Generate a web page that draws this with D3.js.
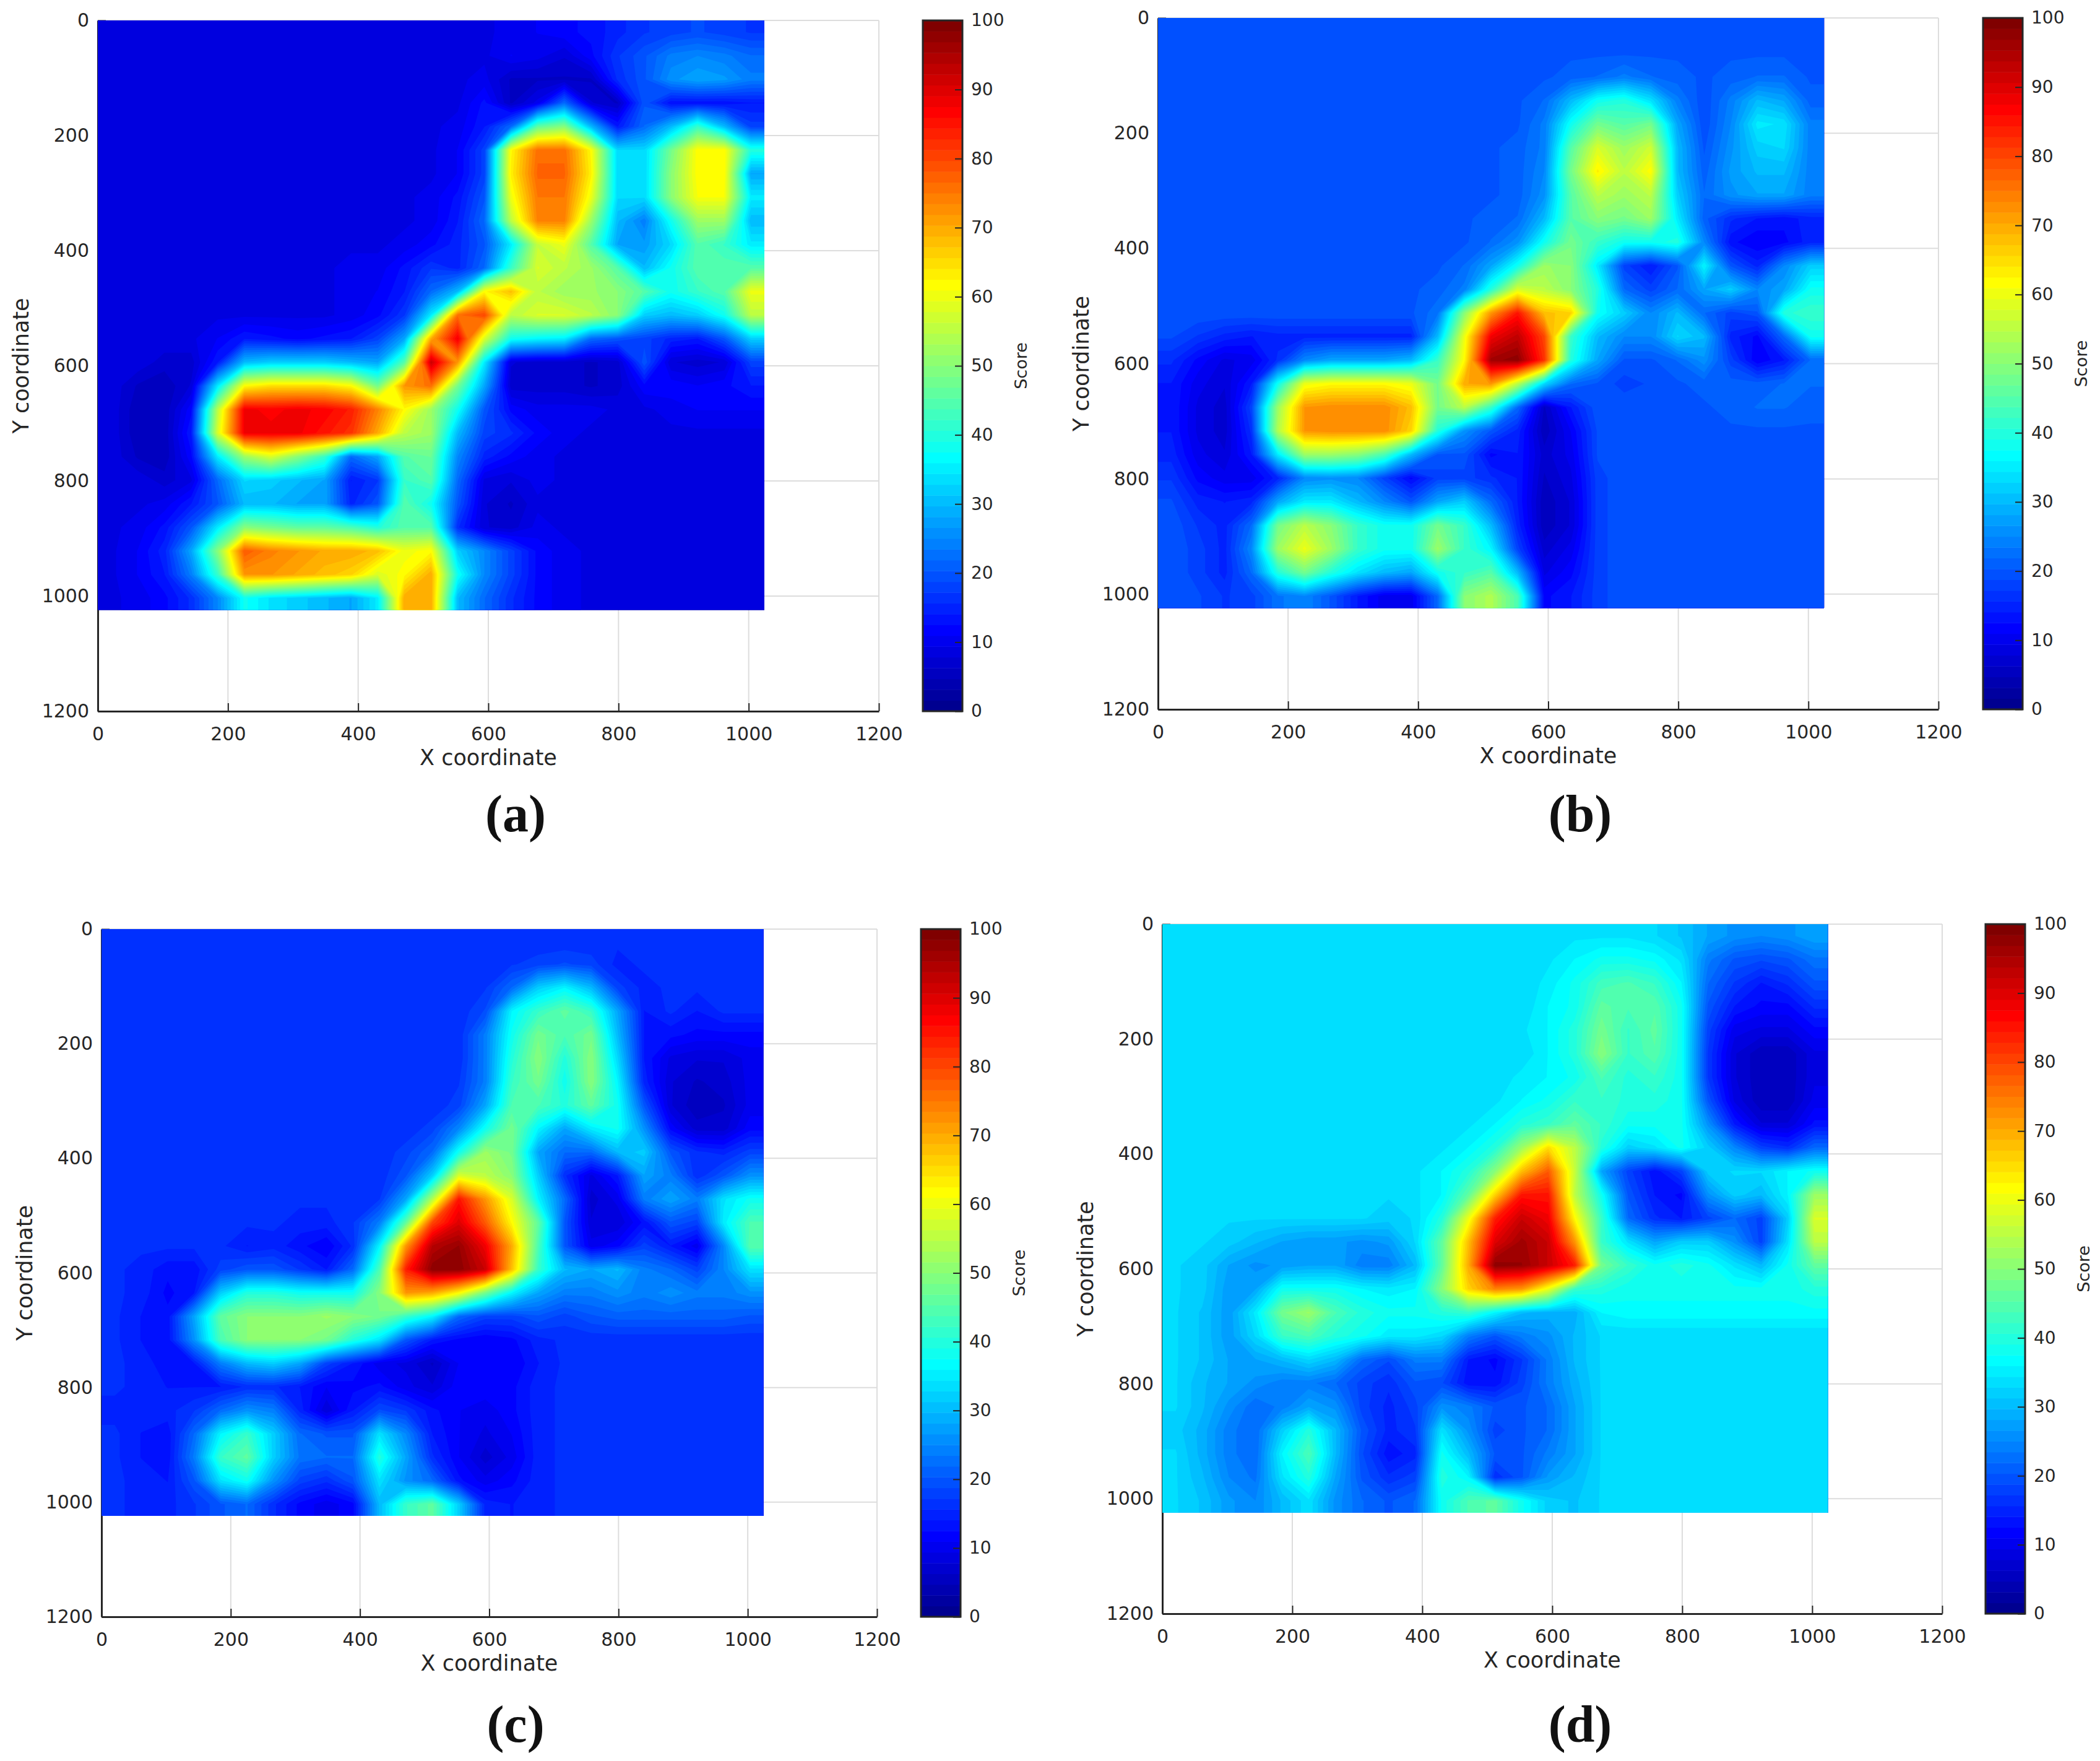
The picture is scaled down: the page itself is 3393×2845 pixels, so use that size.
<!DOCTYPE html>
<html>
<head>
<meta charset="utf-8">
<script src="https://cdnjs.cloudflare.com/ajax/libs/d3/7.8.5/d3.min.js"></script>
<style>
  html, body { margin: 0; padding: 0; background: #fff; }
  text { font-family: "DejaVu Sans", sans-serif; fill: #262626; }
</style>
</head>
<body>
<svg id="chart" width="3393" height="2845"></svg>
<script>
// values, rows are y, columns are x, one cell = 1024/25 units
var scoreA = [
[9,9,9,9,9,9,9,9,9,9,9,9,9,9,9,10,11,12,13,15,17,18,19,18,17],
[9,9,9,9,9,9,9,9,9,9,9,9,9,9,9,11,10,8,12,17,20,24,25,24,22],
[9,9,9,9,9,9,9,9,9,9,9,9,9,9,10,6,6,6,6,16,20,26,28,27,24],
[9,9,9,9,9,9,9,9,9,9,9,9,9,9,13,6,10,22,8,6,20,13,13,13,14],
[9,9,9,9,9,9,9,9,9,9,9,9,9,10,14,22,46,50,30,14,22,30,42,30,18],
[9,9,9,9,9,9,9,9,9,9,9,9,9,11,18,62,76,76,62,33,33,48,62,62,40],
[9,9,9,9,9,9,9,9,9,9,9,9,9,11,18,63,77,77,63,33,33,50,62,62,28],
[9,9,9,9,9,9,9,9,9,9,9,9,10,13,20,60,75,75,60,33,33,50,61,61,35],
[9,9,9,9,9,9,9,9,9,9,9,9,10,14,22,55,74,74,52,30,24,38,52,52,30],
[9,9,9,9,9,9,9,9,9,9,9,10,12,15,20,35,56,60,45,28,27,33,45,42,35],
[9,9,9,9,9,9,9,9,9,10,10,13,17,15,22,42,58,55,52,45,30,38,45,45,45],
[9,9,9,9,9,9,9,9,9,10,11,14,22,30,62,68,55,52,52,50,45,38,42,45,60],
[9,9,9,9,9,9,9,9,9,10,12,17,35,76,80,55,58,58,55,50,32,30,32,38,55],
[9,9,9,9,11,14,13,12,13,14,18,28,70,88,58,38,36,35,22,20,18,15,14,20,32],
[9,9,7,7,14,30,32,32,32,30,28,45,92,72,35,8,7,7,6,7,20,8,7,8,18],
[9,6,5,8,35,62,65,65,65,62,48,72,76,48,28,7,7,7,6,7,12,12,11,12,14],
[9,5,5,12,55,88,87,88,87,84,74,62,52,38,20,12,10,10,10,9,9,10,11,11,11],
[9,5,5,14,58,88,88,88,85,82,70,55,52,30,18,16,12,10,9,9,9,9,9,9,9],
[9,6,5,12,35,52,58,50,42,22,28,45,47,25,15,12,10,9,9,9,9,9,9,9,9],
[9,9,7,9,22,33,32,30,28,14,17,42,45,22,9,8,10,9,9,9,9,9,9,9,9],
[9,9,10,14,20,30,30,28,28,15,20,45,38,20,8,6,9,9,9,9,9,9,9,9,9],
[9,10,13,20,35,50,48,46,46,44,40,45,45,16,8,7,10,9,9,9,9,9,9,9,9],
[9,11,15,28,50,78,74,72,70,70,68,60,62,32,25,18,12,10,9,9,9,9,9,9,9],
[9,11,14,24,42,72,72,70,68,66,58,62,70,38,25,18,12,10,9,9,9,9,9,9,9],
[9,10,12,16,25,38,34,32,30,28,35,70,70,30,22,16,12,10,9,9,9,9,9,9,9]
];
var scoreB = [
[20,20,20,20,20,20,20,20,20,20,20,20,20,20,20,20,20,20,20,19,19,19,19,19,19],
[20,20,20,20,20,20,20,20,20,20,20,20,20,20,20,20,20,20,20,20,19,20,20,20,20],
[20,20,20,20,20,20,20,20,20,20,20,20,20,20,20,21,22,24,22,21,20,21,22,22,20],
[20,20,20,20,20,20,20,20,20,20,20,20,20,20,22,30,38,40,34,24,19,24,30,28,21],
[20,20,20,20,20,20,20,20,20,20,20,20,20,20,24,38,48,45,48,28,19,25,35,34,24],
[20,20,20,20,20,20,20,20,20,20,20,20,20,21,24,45,58,52,57,30,20,26,32,33,24],
[20,20,20,20,20,20,20,20,20,20,20,20,20,21,25,48,63,55,62,30,21,27,30,30,24],
[20,20,20,20,20,20,20,20,20,20,20,20,20,21,26,45,55,52,55,32,22,26,28,28,24],
[20,20,20,20,20,20,20,20,20,20,20,20,21,22,30,45,50,48,52,35,21,16,14,13,15],
[20,20,20,20,20,20,20,20,20,20,20,20,22,26,38,48,42,38,38,40,25,13,11,12,15],
[20,20,20,20,20,20,20,20,20,20,20,22,28,38,52,50,35,18,14,20,36,20,15,25,32],
[20,20,20,20,20,20,20,20,20,20,21,24,40,58,55,50,40,22,18,22,28,32,25,28,38],
[20,20,20,20,20,20,20,20,20,20,23,50,72,85,68,66,38,32,25,30,22,18,20,40,42],
[19,17,15,14,15,15,15,15,15,15,30,60,88,93,80,42,30,25,25,33,30,15,12,22,38],
[16,12,9,10,16,25,28,28,28,30,42,62,96,98,82,40,28,20,20,22,26,18,11,14,22],
[14,10,8,14,38,60,62,62,62,60,48,70,72,55,33,22,20,18,19,20,21,21,21,22,22],
[14,9,7,18,52,72,73,73,73,68,48,55,42,22,6,14,20,20,20,20,20,21,22,22,21],
[14,9,7,16,54,72,73,73,73,66,40,26,20,15,5,11,19,20,20,20,20,20,20,20,20],
[15,10,8,14,35,52,52,50,44,30,20,20,12,14,7,10,19,20,20,20,20,20,20,20,20],
[17,12,10,10,15,25,26,25,18,12,18,18,16,14,6,9,18,20,20,20,20,20,20,20,20],
[19,15,14,15,28,35,35,30,25,20,28,32,22,14,5,8,18,20,20,20,20,20,20,20,20],
[20,17,15,22,48,55,50,42,38,38,48,42,30,15,5,8,18,20,20,20,20,20,20,20,20],
[20,18,15,25,52,60,52,42,38,38,52,42,36,18,7,10,18,20,20,20,20,20,20,20,20],
[20,18,15,22,40,48,40,34,30,28,38,42,45,30,9,12,18,20,20,20,20,20,20,20,20],
[20,19,17,18,23,25,20,14,10,10,22,50,54,44,12,14,18,20,20,20,20,20,20,20,20]
];
var scoreC = [
[16,16,16,16,16,16,16,16,16,16,16,16,16,16,16,16,16,16,16,16,16,16,16,16,16],
[16,16,16,16,16,16,16,16,16,16,16,16,16,16,16,17,18,19,18,15,16,16,16,16,16],
[16,16,16,16,16,16,16,16,16,16,16,16,16,16,17,22,32,36,30,18,15,16,16,16,16],
[16,16,16,16,16,16,16,16,16,16,16,16,16,16,19,36,42,46,42,28,14,16,14,16,16],
[16,16,16,16,16,16,16,16,16,16,16,16,16,16,24,38,48,44,48,30,14,13,12,12,12],
[16,16,16,16,16,16,16,16,16,16,16,16,16,16,24,40,50,40,50,33,14,9,8,8,10],
[16,16,16,16,16,16,16,16,16,16,16,16,16,17,24,42,48,38,50,36,15,8,6,7,10],
[16,16,16,16,16,16,16,16,16,16,16,16,16,18,28,44,44,40,46,38,20,8,5,6,10],
[16,16,16,16,16,16,16,16,16,16,16,16,18,25,38,48,36,28,35,38,26,12,7,7,12],
[16,16,16,16,16,16,16,16,16,16,16,18,22,38,52,48,28,22,22,30,32,20,16,15,18],
[16,16,16,16,16,16,16,16,16,16,16,20,32,58,55,50,32,16,9,14,28,24,16,20,26],
[16,16,16,16,16,16,16,16,16,16,17,28,54,85,72,58,36,22,7,10,24,28,24,34,38],
[16,16,16,16,16,16,16,15,15,17,24,46,80,90,78,62,46,20,8,8,13,20,18,35,44],
[16,16,16,16,16,14,15,13,11,16,36,72,94,97,88,70,44,20,10,12,18,14,10,25,45],
[16,15,13,13,18,20,20,17,14,22,44,84,98,98,92,68,42,30,28,30,24,22,18,25,34],
[16,15,12,14,32,40,40,38,38,38,50,72,70,62,48,36,28,24,24,26,24,26,24,24,26],
[16,14,13,28,46,50,50,50,52,50,48,42,36,22,18,18,20,18,20,21,21,21,21,21,20],
[16,14,13,26,44,50,50,50,48,40,34,20,14,12,11,12,15,16,16,16,16,16,16,16,16],
[16,15,13,14,24,30,32,28,18,14,10,9,6,11,11,11,14,16,16,16,16,16,16,16,16],
[16,15,14,14,14,16,16,14,11,12,13,10,8,12,12,12,15,16,16,16,16,16,16,16,16],
[15,15,15,17,22,26,24,15,8,14,19,17,13,11,10,12,15,16,16,16,16,16,16,16,16],
[16,14,13,22,36,42,32,22,20,20,34,25,14,11,9,11,15,16,16,16,16,16,16,16,16],
[16,14,13,24,42,46,32,23,22,22,40,28,16,11,7,10,15,16,16,16,16,16,16,16,16],
[16,15,14,20,34,38,26,18,16,20,34,26,22,13,10,12,15,16,16,16,16,16,16,16,16],
[16,15,15,17,20,22,16,12,10,12,30,42,46,32,15,14,15,16,16,16,16,16,16,16,16]
];
var scoreD = [
[33,33,33,33,33,33,33,33,33,33,33,33,33,33,33,34,34,34,33,31,28,26,25,26,28],
[33,33,33,33,33,33,33,33,33,33,33,33,33,33,34,36,38,38,37,34,24,20,19,20,23],
[33,33,33,33,33,33,33,33,33,33,33,33,33,33,35,38,43,44,42,36,22,17,14,16,20],
[33,33,33,33,33,33,33,33,33,33,33,33,33,33,36,38,46,44,45,38,20,14,12,12,16],
[33,33,33,33,33,33,33,33,33,33,33,33,33,34,36,40,48,42,46,38,18,10,9,9,12],
[33,33,33,33,33,33,33,33,33,33,33,33,33,33,36,40,50,42,45,38,17,8,5,5,9],
[33,33,33,33,33,33,33,33,33,33,33,33,33,35,36,38,44,40,42,38,17,8,5,5,9],
[33,33,33,33,33,33,33,33,33,33,33,33,34,36,38,42,42,40,40,38,20,9,5,5,10],
[33,33,33,33,33,33,33,33,33,33,33,34,36,40,42,46,42,38,38,38,26,14,8,8,13],
[33,33,33,33,33,33,33,33,33,33,34,36,40,52,65,55,40,32,34,38,32,25,18,16,22],
[33,33,33,33,33,33,33,33,33,34,36,40,50,68,78,56,28,18,13,18,32,33,33,36,38],
[33,33,33,33,33,33,33,33,33,34,36,46,66,85,85,55,38,20,14,12,26,32,30,36,52],
[33,33,33,33,33,33,33,33,32,33,40,60,84,92,88,62,42,22,16,14,18,22,18,32,58],
[33,33,32,30,28,27,27,26,27,33,46,68,90,96,92,72,42,34,28,32,32,26,18,34,55],
[33,32,28,26,27,28,28,24,24,30,46,70,98,97,92,84,48,42,38,40,38,34,30,38,46],
[33,32,27,28,38,38,38,36,35,36,50,66,74,72,60,42,40,38,38,38,38,38,38,38,40],
[33,31,27,35,48,52,44,40,38,38,40,42,36,30,29,29,36,37,37,37,37,37,37,37,37],
[33,31,27,33,42,44,40,38,35,35,33,24,20,24,26,30,33,33,33,33,33,33,33,33,33],
[33,31,28,28,30,33,30,22,19,24,24,14,12,17,24,30,33,33,33,33,33,33,33,33,33],
[33,30,28,26,24,24,22,18,16,20,19,13,13,18,24,29,33,33,33,33,33,33,33,33,33],
[33,30,26,22,24,28,26,18,15,18,26,24,20,20,22,28,33,34,33,33,33,33,33,33,33],
[32,29,24,22,32,40,30,20,15,17,34,26,18,20,22,28,33,34,33,33,33,33,33,33,33],
[33,29,24,22,36,44,30,19,13,15,38,30,20,20,24,28,33,34,33,33,33,33,33,33,33],
[33,30,25,23,34,40,28,20,16,18,40,36,16,20,27,30,33,34,33,33,33,33,33,33,33],
[33,31,27,25,30,34,26,22,20,22,38,44,46,38,32,31,33,34,33,33,33,33,33,33,33]
];
var axisTicks = [0, 200, 400, 600, 800, 1000, 1200];
var scoreTicks = [0, 10, 20, 30, 40, 50, 60, 70, 80, 90, 100];
var panelNames = ["(a)", "(b)", "(c)", "(d)"];

// where each panel sits on the page
var panels = [
  { data: scoreA, name: panelNames[0], left: 158, right: 1420, top: 33, bottom: 1149, barLeft: 1491, labelX: 833, labelY: 1316 },
  { data: scoreB, name: panelNames[1], left: 1871, right: 3132, top: 29, bottom: 1146, barLeft: 3204, labelX: 2553, labelY: 1316 },
  { data: scoreC, name: panelNames[2], left: 164, right: 1417, top: 1501, bottom: 2612, barLeft: 1488, labelX: 833, labelY: 2787 },
  { data: scoreD, name: panelNames[3], left: 1878, right: 3138, top: 1493, bottom: 2607, barLeft: 3208, labelX: 2553, labelY: 2787 }
];

var gridSize = 25, heatMax = 1024, barWidth = 64;
var levelCount = 64; // jet(64), same as the colorbar

var jet = d3.scaleLinear()
  .domain([0, 7, 23, 39, 55, 63])
  .range(["#000090", "#0000ff", "#00ffff", "#ffff00", "#ff0000", "#800000"]);

var levels = d3.range(levelCount);
var levelValue = function(i) { return i * 100 / levelCount; };

// repeats the border cells once, d3.contours would cut the corners otherwise
function withBorder(rows) {
  var out = [];
  for (var j = -1; j <= gridSize; j++) {
    var row = rows[Math.max(0, Math.min(gridSize - 1, j))];
    for (var i = -1; i <= gridSize; i++) {
      out.push(row[Math.max(0, Math.min(gridSize - 1, i))]);
    }
  }
  return out;
}

var svg = d3.select("#chart");

panels.forEach(function(p, n) {
  var x = d3.scaleLinear().domain([0, 1200]).range([p.left, p.right]);
  var y = d3.scaleLinear().domain([0, 1200]).range([p.top, p.bottom]);
  var g = svg.append("g");

  // grid under everything
  g.selectAll(".gx").data(axisTicks).enter().append("line")
    .attr("x1", function(d) { return x(d); }).attr("x2", function(d) { return x(d); })
    .attr("y1", p.top).attr("y2", p.bottom)
    .attr("stroke", "#dddddd").attr("stroke-width", 2);
  g.selectAll(".gy").data(axisTicks).enter().append("line")
    .attr("y1", function(d) { return y(d); }).attr("y2", function(d) { return y(d); })
    .attr("x1", p.left).attr("x2", p.right)
    .attr("stroke", "#dddddd").attr("stroke-width", 2);

  // axes
  var xAxis = d3.axisBottom(x).tickValues(axisTicks).tickFormat(d3.format("d")).tickSizeInner(-13).tickSizeOuter(0).tickPadding(26);
  var yAxis = d3.axisLeft(y).tickValues(axisTicks).tickFormat(d3.format("d")).tickSizeInner(-13).tickSizeOuter(0).tickPadding(14);
  [g.append("g").attr("transform", "translate(0," + p.bottom + ")").call(xAxis),
   g.append("g").attr("transform", "translate(" + p.left + ",0)").call(yAxis)].forEach(function(a) {
    a.selectAll("path").attr("stroke", "#262626").attr("stroke-width", 3);
    a.selectAll("line").attr("stroke", "#262626").attr("stroke-width", 2);
    a.selectAll("text").attr("font-size", 30).attr("font-family", "DejaVu Sans").attr("fill", "#262626");
  });

  // filled contours, one layer per colour level
  var contours = d3.contours().size([gridSize + 2, gridSize + 2]).thresholds(levels.map(levelValue))(withBorder(p.data));
  var proj = d3.geoTransform({
    point: function(a, b) { this.stream.point(x((a - 1) * heatMax / gridSize), y((b - 1) * heatMax / gridSize)); }
  });
  var path = d3.geoPath(proj);
  svg.append("clipPath").attr("id", "heat" + n).append("rect")
    .attr("x", x(0)).attr("y", y(0))
    .attr("width", x(heatMax) - x(0)).attr("height", y(heatMax) - y(0));
  g.append("g").attr("clip-path", "url(#heat" + n + ")")
    .selectAll("path").data(contours).enter().append("path")
    .attr("d", path)
    .attr("fill", function(d, i) { return jet(i); });

  // axis titles
  g.append("text").attr("x", x(600)).attr("y", p.bottom + 87)
    .attr("text-anchor", "middle").attr("font-size", 35).text("X coordinate");
  g.append("text").attr("transform", "translate(" + (p.left - 112) + "," + ((p.top + p.bottom) / 2) + ") rotate(-90)")
    .attr("text-anchor", "middle").attr("font-size", 35).text("Y coordinate");

  // colorbar
  var barY = d3.scaleLinear().domain([0, 100]).range([p.bottom, p.top]);
  var bar = g.append("g");
  bar.selectAll("rect").data(levels).enter().append("rect")
    .attr("x", p.barLeft).attr("width", barWidth)
    .attr("y", function(d) { return barY(levelValue(d + 1)); })
    .attr("height", function(d) { return barY(levelValue(d)) - barY(levelValue(d + 1)) + 0.5; })
    .attr("fill", function(d) { return jet(d); });
  bar.append("rect").attr("x", p.barLeft).attr("y", p.top).attr("width", barWidth).attr("height", p.bottom - p.top)
    .attr("fill", "none").attr("stroke", "#262626").attr("stroke-width", 3);
  var barAxis = d3.axisRight(barY).tickValues(scoreTicks).tickFormat(d3.format("d")).tickSizeInner(-12).tickSizeOuter(0).tickPadding(14);
  var barG = bar.append("g").attr("transform", "translate(" + (p.barLeft + barWidth) + ",0)").call(barAxis);
  barG.select("path").remove();
  barG.selectAll("line").attr("stroke", "#262626").attr("stroke-width", 2);
  barG.selectAll("text").attr("font-size", 28).attr("font-family", "DejaVu Sans").attr("fill", "#262626");
  g.append("text").attr("transform", "translate(" + (p.barLeft + 168) + "," + ((p.top + p.bottom) / 2) + ") rotate(-90)")
    .attr("text-anchor", "middle").attr("font-size", 27).text("Score");

  // panel letter
  g.append("text").attr("x", p.labelX).attr("y", p.labelY + 27)
    .attr("text-anchor", "middle").attr("font-size", 84)
    .attr("font-weight", "bold")
    .style("font-family", "'Liberation Serif', serif").style("fill", "#111")
    .text(p.name);
});
</script>
</body>
</html>
